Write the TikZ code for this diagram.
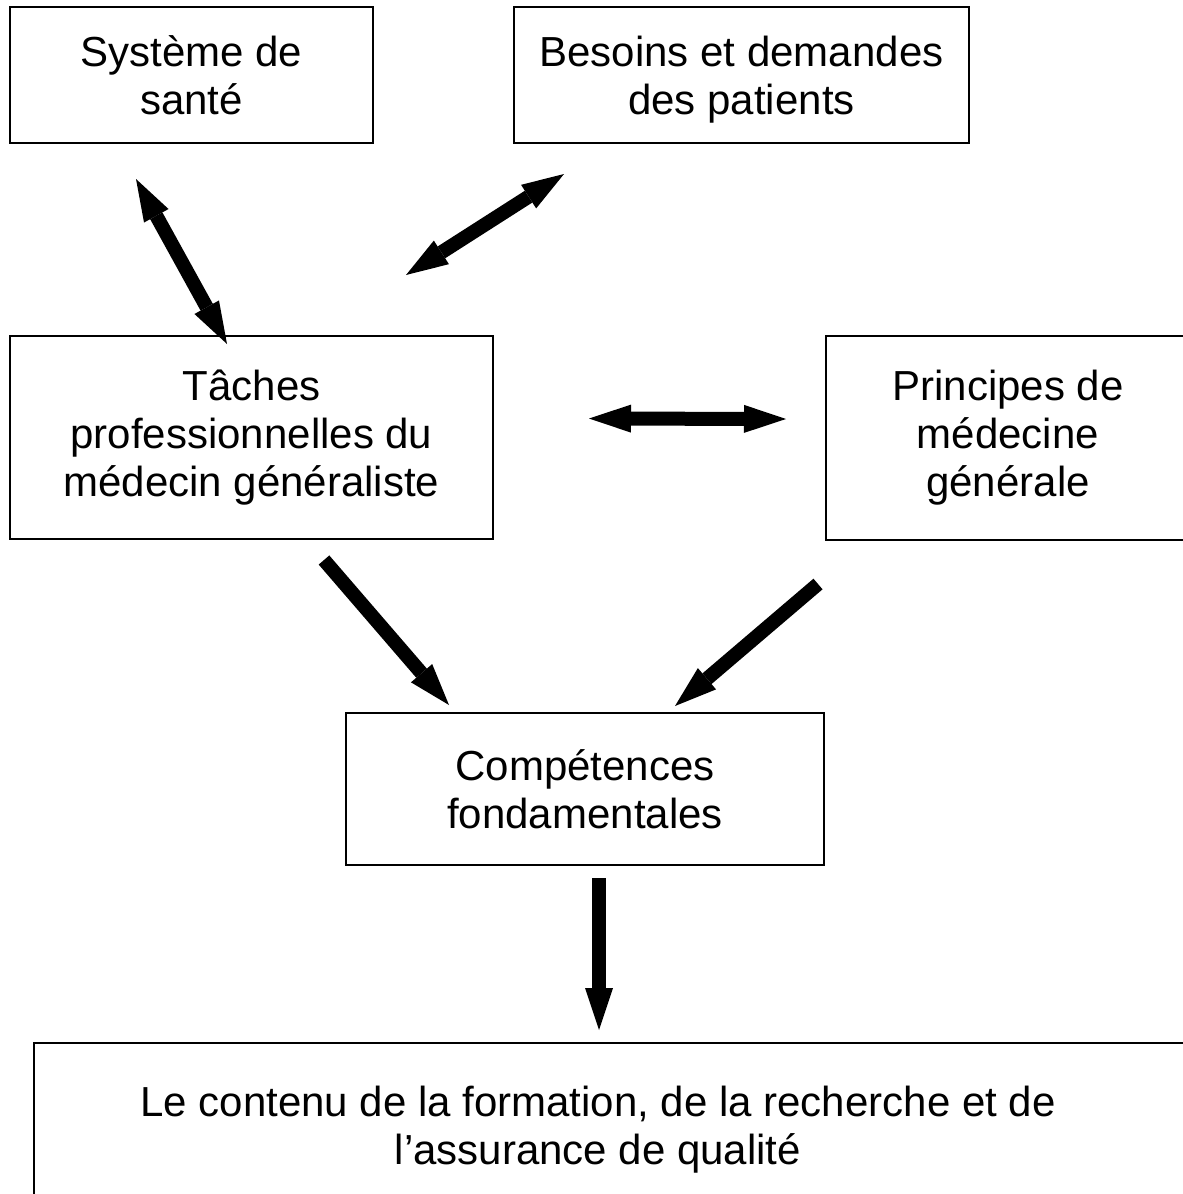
\documentclass[tikz,border=0pt]{standalone}
\usepackage{fontspec}
\setmainfont{Liberation Sans}
\usetikzlibrary{arrows.meta,calc}
\begin{document}
\begin{tikzpicture}[x=1pt,y=-1pt,
  box/.style={draw, line width=2pt, align=center, inner sep=0pt,
    font=\fontsize{42}{48}\selectfont},
  label text/.style={align=center, inner sep=0pt, font=\fontsize{42}{48}\selectfont},
  onearrow/.style={line width=14pt, line cap=butt,
    -{Triangle[length=42pt,width=28pt,line width=0pt]}},
  twoarrow/.style={line width=14pt, line cap=butt,
    {Triangle[length=42pt,width=28pt,line width=0pt]}-{Triangle[length=42pt,width=28pt,line width=0pt]}}
]
\useasboundingbox (0,0) rectangle (1183,1194);
\clip (0,0) rectangle (1183,1194);

\node[box, minimum width=363pt, minimum height=136pt] (sys) at (191.5,75) {Système de\\santé};
\node[box, minimum width=455pt, minimum height=136pt, text depth=0pt] (bes) at (741.5,75) {Besoins et demandes\\des patients};
\node[box, minimum width=483pt, minimum height=203pt] (tac) at (251.5,437.5) {Tâches\\professionnelles du\\médecin généraliste};
\node[box, minimum width=364pt, minimum height=204pt] (pri) at (1008,438) {Principes de\\médecine\\générale};
\node[box, minimum width=478pt, minimum height=152pt] (comp) at (585,789) {Compétences\\fondamentales};
\node[box, minimum width=1200pt, minimum height=200pt, anchor=north west] (cont) at (33,1042) {};
\node[label text] (conttext) at (598,1130) {Le contenu de la formation, de la recherche et de\\l’assurance de qualité};

\coordinate (s1) at ($(sys.south west)+(127,35)$);
\coordinate (s2) at ($(tac.north west)+(218,9)$);
\coordinate (b1) at ($(bes.south west)+(51,30)$);
\coordinate (b2) at ($(tac.north east)+(-88,-60)$);
\coordinate (h1) at ($(tac.east)+(95,-19)$);
\coordinate (h2) at ($(pri.west)+(-39,-19)$);
\coordinate (t1) at ($(tac.south west)+(315,20)$);
\coordinate (t2) at ($(comp.north west)+(104,-7)$);
\coordinate (p1) at ($(pri.south west)+(-7,43)$);
\coordinate (p2) at ($(comp.north west)+(330,-6)$);
\coordinate (c1) at ($(comp.south)+(14,12)$);
\coordinate (c2) at ($(cont.north west)+(566,-12)$);

\draw[twoarrow] (s1) -- (s2);
\draw[twoarrow] (b1) -- (b2);
\draw[twoarrow] (h1) -- (h2);
\draw[onearrow] (t1) -- (t2);
\draw[onearrow] (p1) -- (p2);
\draw[onearrow] (c1) -- (c2);
\end{tikzpicture}
\end{document}
